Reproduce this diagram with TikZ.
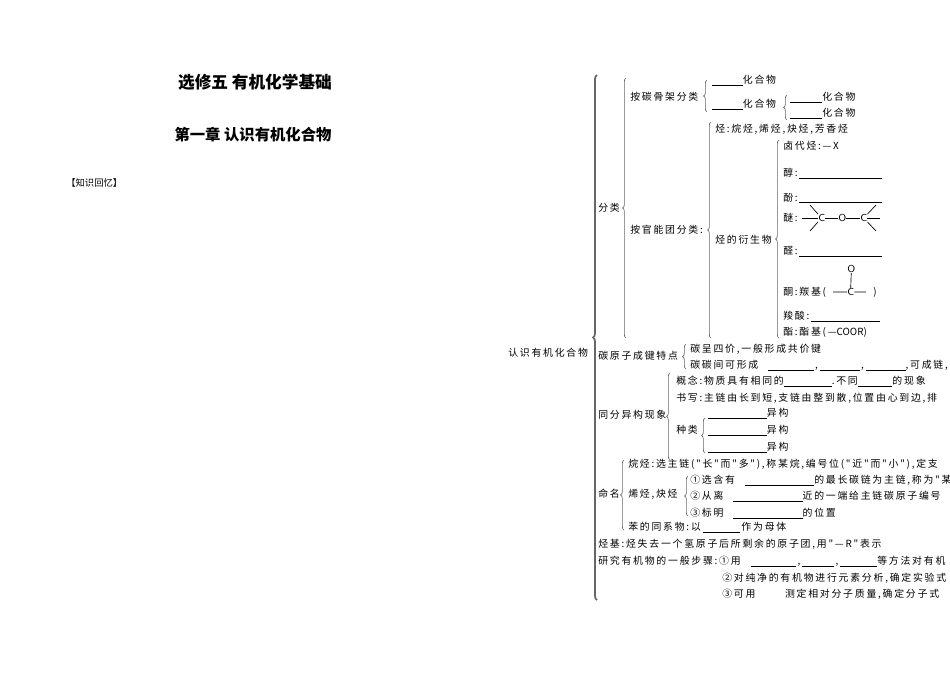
\documentclass[tikz,border=0pt]{standalone}
\usepackage{fontspec}
\newfontfamily\cjk[LetterSpace=18]{Noto Sans CJK SC}
\newfontfamily\cjkt{Noto Sans CJK SC}
\usetikzlibrary{decorations.pathreplacing}
\newcommand\bl[1]{\rule[-1.5pt]{#1pt}{0.45pt}}
\tikzset{
 t/.style={anchor=west,inner sep=0pt,font=\cjk\fontsize{7.4}{8}\selectfont},
 br/.style={draw=black!60,line width=0.5pt,decorate,decoration={brace,amplitude=2.5pt}},
 ln/.style={line width=0.5pt},
 ch/.style={anchor=west,inner sep=0pt,font=\sffamily\fontsize{7.6}{8}\selectfont},
}
\begin{document}
\begin{tikzpicture}[x=0.75pt,y=-0.75pt]
\useasboundingbox (0,0) rectangle (950,672);
\node[font=\cjkt\bfseries\fontsize{12.5}{14}\selectfont] (title) at (255,82) {选修五\ 有机化学基础};
\node[font=\cjkt\bfseries\fontsize{11.5}{14}\selectfont] (ch) at (253,135) {第一章\ 认识有机化合物};
\node[anchor=west,inner sep=0pt,font=\cjkt\fontsize{7}{8}\selectfont] (zs) at (66,183) {【知识回忆】};
% level 0
\node[t] (root) at (508,353) {认识有机化合物};
\draw[br,line width=1.3pt,decoration={brace,amplitude=3pt}] (597,600) -- (597,75);
% 分类
\node[t] (fl) at (598,208) {分类};
\draw[br] (626,338) -- (626,78);
\node[t] (tg) at (630,97) {按碳骨架分类};
\draw[br] (707,112) -- (707,80);
\node[t] (h1) at (712,80) {\bl{23}化合物};
\node[t] (h2) at (712,104) {\bl{23}化合物};
\draw[br] (787,120) -- (787,95);
\node[t] (h3) at (790,97) {\bl{24}化合物};
\node[t] (h4) at (790,113) {\bl{24}化合物};
\node[t] (gn) at (630,230) {按官能团分类:};
\draw[br] (711,338) -- (711,122);
\node[t] (ting) at (715,129) {烃:烷烃,烯烃,炔烃,芳香烃};
\node[t] (ys) at (715,240) {烃的衍生物};
\draw[br] (779,338) -- (779,140);
\node[t] (ld) at (783,146) {卤代烃:—X};
\node[t] (chun) at (783,173) {醇:\,\bl{62}};
\node[t] (fen) at (783,198) {酚:\,\bl{62}};
\node[t] (mi) at (783,218) {醚:};
\node[ch] (c1) at (818,218) {C};
\node[ch] (o1) at (838,218) {O};
\node[ch] (c2) at (860,218) {C};
\draw[ln] (802,218) -- (c1.west) (c1.east) -- (o1.west) (o1.east) -- (c2.west) (c2.east) -- (880,218);
\draw[ln] (c1.north west) -- (810,205) (c1.south west) -- (810,231) (c2.north east) -- (876,205) (c2.south east) -- (876,231);
\node[t] (quan) at (783,251) {醛:\,\bl{62}};
\node[ch] (ko) at (847,269) {O};
\node[t] (tong) at (783,292) {酮:羰基(};
\node[ch] (kc) at (847,292) {C};
\node[t] (tong2) at (873,292) {)};
\draw[ln] (ko.south) -- (kc.north) (833,292) -- (kc.west) (kc.east) -- (866,292);
\node[t] (suo) at (783,316) {羧酸:\,\bl{52}};
\node[t] (zhi) at (783,332) {酯:酯基(—\fontspec{Noto Sans CJK SC}COOR)};
% 碳原子成键特点
\node[t] (tyz) at (598,356) {碳原子成键特点};
\draw[br] (686,369) -- (686,344);
\node[t] (t1) at (690,349) {碳呈四价,一般形成共价键};
\node[t] (t2) at (690,365) {碳碳间可形成\quad\bl{34}\,,\,\bl{30}\,,\,\bl{30},可成链,};
% 同分异构
\node[t] (tf) at (598,415) {同分异构现象};
\draw[br] (670,460) -- (670,373);
\node[t] (gn2) at (676,381) {概念:物质具有相同的\bl{36}.不同\bl{26}的现象};
\node[t] (sx) at (676,398) {书写:主链由长到短,支链由整到散,位置由心到边,排};
\node[t] (zl) at (676,430) {种类};
\draw[br] (705,453) -- (705,418);
\node[t] (y1) at (708,413) {\bl{44}异构};
\node[t] (y2) at (708,430) {\bl{44}异构};
\node[t] (y3) at (708,447) {\bl{44}异构};
% 命名
\node[t] (mm) at (598,494) {命名};
\draw[br] (624,530) -- (624,460);
\node[t] (wt) at (628,464) {烷烃:选主链("长"而"多"),称某烷,编号位("近"而"小"),定支};
\node[t] (xt) at (628,494) {烯烃,炔烃};
\draw[br] (688,516) -- (688,476);
\node[t] (n1) at (690,480) {①选含有\quad\bl{52}的最长碳链为主链,称为"某};
\node[t] (n2) at (690,496) {②从离\quad\bl{52}近的一端给主链碳原子编号};
\node[t] (n3) at (690,513) {③标明\quad\bl{52}的位置};
\node[t] (bt) at (628,527) {苯的同系物:以\,\bl{28}\,作为母体};
\node[t] (tj) at (598,544) {烃基:烃失去一个氢原子后所剩余的原子团,用"—R"表示};
\node[t] (yj) at (598,561) {研究有机物的一般步骤:①用\quad\bl{34}\,,\,\bl{24}\,,\,\bl{28}等方法对有机};
\node[t] (s2) at (722,578) {②对纯净的有机物进行元素分析,确定实验式};
\node[t] (s3) at (722,594) {③可用\qquad\quad 测定相对分子质量,确定分子式};
\end{tikzpicture}
\end{document}
